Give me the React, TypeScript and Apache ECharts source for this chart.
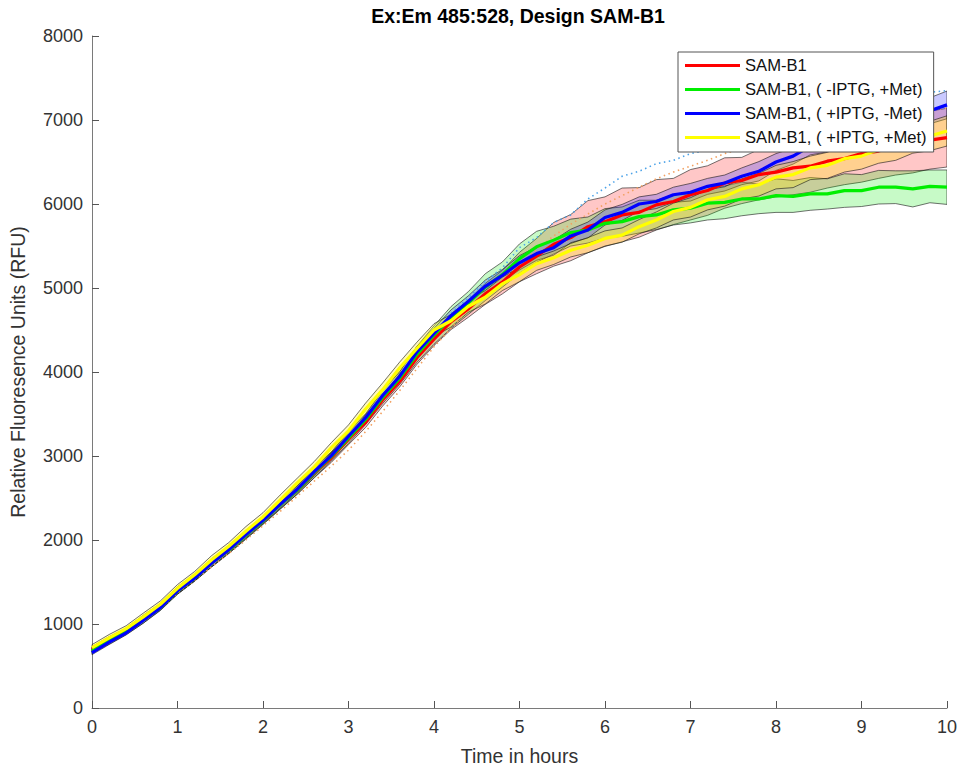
import React, { useEffect, useRef } from "react";
import * as echarts from "echarts";

const T = [0, 0.2, 0.4, 0.6, 0.8, 1, 1.2, 1.4, 1.6, 1.8, 2, 2.2, 2.4, 2.6, 2.8, 3, 3.2, 3.4, 3.6, 3.8, 4, 4.2, 4.4, 4.6, 4.8, 5, 5.2, 5.4, 5.6, 5.8, 6, 6.2, 6.4, 6.6, 6.8, 7, 7.2, 7.4, 7.6, 7.8, 8, 8.2, 8.4, 8.6, 8.8, 9, 9.2, 9.4, 9.6, 9.8, 10];

const NAMES = ["SAM-B1", "SAM-B1, ( -IPTG, +Met)", "SAM-B1, ( +IPTG, -Met)", "SAM-B1, ( +IPTG, +Met)"];

const redMean = [700, 815, 920, 1065, 1210, 1400, 1550, 1730, 1885, 2065, 2235, 2425, 2595, 2800, 2980, 3200, 3400, 3670, 3890, 4170, 4390, 4600, 4750, 4930, 5070, 5250,
  5380, 5520, 5600, 5730, 5790, 5870, 5900, 5990, 6030, 6110, 6160, 6250, 6280, 6350, 6380, 6430, 6450, 6510, 6540, 6600, 6630, 6690, 6700, 6760, 6790];
const greenMean = [680, 795, 905, 1050, 1195, 1395, 1545, 1725, 1880, 2060, 2230, 2420, 2595, 2805, 2995, 3215, 3435, 3700, 3930, 4210, 4440, 4650, 4820, 5010, 5160, 5350,
  5490, 5570, 5660, 5690, 5770, 5790, 5850, 5870, 5930, 5950, 6010, 6020, 6060, 6060, 6100, 6090, 6120, 6120, 6160, 6160, 6200, 6200, 6180, 6210, 6200];
const blueMean = [660, 785, 895, 1045, 1195, 1395, 1545, 1725, 1885, 2065, 2235, 2425, 2605, 2815, 3005, 3235, 3455, 3720, 3950, 4240, 4460, 4670, 4840, 5020, 5150, 5300,
  5410, 5480, 5620, 5690, 5840, 5900, 6000, 6030, 6110, 6140, 6210, 6250, 6330, 6390, 6500, 6570, 6690, 6730, 6810, 6860, 6940, 6980, 7070, 7110, 7180];
const yellowMean = [720, 835, 945, 1085, 1235, 1425, 1585, 1765, 1925, 2105, 2275, 2475, 2680, 2870, 3100, 3300, 3560, 3790, 4050, 4280, 4500, 4610, 4780, 4890, 5050, 5160,
  5290, 5360, 5450, 5510, 5590, 5630, 5730, 5810, 5910, 5960, 6050, 6090, 6180, 6230, 6320, 6350, 6430, 6460, 6540, 6570, 6650, 6690, 6770, 6810, 6870];

const redSpread = [30, 35, 30, 40, 35, 45, 40, 50, 45, 50, 45, 55, 50, 60, 55, 65, 60, 75, 65, 80, 75, 95, 100, 125, 140, 175,
  210, 260, 275, 310, 295, 320, 295, 300, 275, 300, 295, 300, 275, 300, 295, 320, 310, 320, 310, 340, 325, 345, 330, 345, 350];
const greenSpread = [30, 35, 30, 40, 35, 40, 35, 45, 40, 50, 45, 55, 50, 60, 55, 65, 60, 75, 75, 95, 110, 130, 135, 160, 150, 175,
  185, 165, 160, 155, 175, 175, 195, 175, 180, 175, 200, 195, 200, 175, 200, 190, 195, 180, 200, 190, 200, 195, 215, 195, 205];
const blueSpread = [25, 30, 25, 35, 30, 35, 30, 40, 35, 40, 35, 45, 40, 50, 45, 55, 50, 60, 55, 65, 60, 70, 65, 75, 70, 85,
  80, 90, 80, 95, 90, 95, 85, 85, 90, 105, 95, 95, 100, 115, 100, 95, 105, 110, 125, 130, 125, 135, 140, 155, 165];
const yellowSpread = [35, 40, 35, 45, 40, 45, 40, 50, 45, 55, 50, 60, 55, 65, 60, 70, 70, 80, 70, 75, 75, 75, 70, 80, 80, 85,
  80, 80, 80, 90, 90, 85, 85, 95, 100, 115, 120, 115, 120, 135, 140, 155, 140, 155, 160, 155, 165, 170, 165, 175, 180];

// individual replicate traces (dotted)
const repBlue = [null, null, null, null, null, null, null, null, null, null, null, null, null, null, null, null, null, null, null, null, null,
  4700, 4880, 5080, 5240, 5480, 5600, 5780, 5870, 6060, 6190, 6330, 6390, 6480, 6520, 6600, 6640, 6710, 6750, 6830, 6870, 6950, 6990, 7060, 7090, 7160, 7190, 7250, 7270, 7330, 7350];
const repOrange = [680, 790, 905, 1030, 1180, 1370, 1520, 1680, 1840, 2000, 2170, 2340, 2520, 2700, 2880, 3070, 3290, 3530, 3780, 4040, 4300, 4520, 4740, 4930, 5100, 5260,
  5460, 5620, 5760, 5880, 6000, 6100, 6200, 6300, 6380, 6450, 6520, 6600, 6660, 6720, 6780, 6830, 6880, 6920, 6960, 7000, 7040, 7080, 7100, 7120, 7140];

const X_TICKS = [0, 10, 1];
const Y_TICKS = [0, 8000, 1000];

const FONT = "'Liberation Sans', Arial, Helvetica, sans-serif";

export default function App() {
  const ref = useRef<HTMLDivElement>(null);
  useEffect(() => {
    document.body.style.margin = "0";
    const chart = echarts.init(ref.current!, null, { renderer: "svg" });
    const groups = [
      { name: NAMES[0], mean: redMean, spread: redSpread, line: "#ff0000", fill: "rgba(255,0,0,0.22)" },
      { name: NAMES[1], mean: greenMean, spread: greenSpread, line: "#00ee00", fill: "rgba(0,230,0,0.22)" },
      { name: NAMES[2], mean: blueMean, spread: blueSpread, line: "#0000ff", fill: "rgba(40,40,255,0.25)" },
      { name: NAMES[3], mean: yellowMean, spread: yellowSpread, line: "#ffff00", fill: "rgba(255,235,0,0.28)" },
    ];
    const series: any[] = [];
    groups.forEach((g, k) => {
      const lo = g.mean.map((m, i) => [T[i], m - g.spread[i]]);
      const hi = g.mean.map((m, i) => [T[i], m + g.spread[i]]);
      series.push({
        type: "custom", name: "band" + k, silent: true, z: 1, clip: true,
        data: g.mean.map((m, i) => [T[i], m - g.spread[i], m + g.spread[i]]),
        encode: { x: 0, y: [1, 2] },
        renderItem: (params: any, api: any) => {
          if (params.dataIndex !== 0) return null;
          const pts = hi.map((p) => api.coord(p)).concat(lo.slice().reverse().map((p) => api.coord(p)));
          return {
            type: "polygon",
            shape: { points: pts },
            style: { fill: g.fill, stroke: "rgba(20,20,20,0.75)", lineWidth: 0.8 },
          };
        },
      });
    });
    series.push({
      type: "line", name: "repB", symbol: "none", silent: true, z: 2,
      data: repBlue.map((v, i) => [T[i], v]),
      lineStyle: { color: "#4da3e8", width: 1.6, type: [1.5, 3.5] },
    });
    series.push({
      type: "line", name: "repO", symbol: "none", silent: true, z: 2,
      data: repOrange.map((v, i) => [T[i], v]),
      lineStyle: { color: "#f2a060", width: 1.6, type: [1.5, 3.5] },
    });
    groups.forEach((g) => {
      series.push({
        type: "line", name: g.name, symbol: "none", z: 3,
        data: g.mean.map((m, i) => [T[i], m]),
        lineStyle: { color: g.line, width: 3.2 },
        itemStyle: { color: g.line },
      });
    });

    chart.setOption({
      animation: false,
      backgroundColor: "#fff",
      textStyle: { fontFamily: FONT },
      grid: { left: 89, right: 14, top: 36, bottom: 58 },
      graphic: [
        {
          type: "text", x: 518, y: 16, z: 10,
          style: {
            text: "Ex:Em 485:528, Design SAM-B1", fill: "#000",
            font: "bold 19.5px " + FONT, align: "center", verticalAlign: "middle",
          },
        },
      ],
      legend: {
        data: NAMES,
        orient: "vertical",
        left: 678, top: 52,
        padding: [5, 7, 6, 7],
        itemWidth: 55, itemHeight: 3, itemGap: 7,
        icon: "rect",
        backgroundColor: "#fff",
        borderColor: "#555", borderWidth: 1,
        textStyle: { fontSize: 16.6, color: "#111", fontFamily: FONT, lineHeight: 16 },
        z: 20,
      },
      xAxis: {
        type: "value", min: X_TICKS[0], max: X_TICKS[1], interval: X_TICKS[2],
        name: "Time in hours", nameLocation: "middle", nameGap: 38,
        nameTextStyle: { fontSize: 19.5, color: "#333", fontFamily: FONT },
        axisLine: { show: true, lineStyle: { color: "#7a7a7a", width: 1 } },
        axisTick: { show: true, inside: true, length: 7, lineStyle: { color: "#555" } },
        axisLabel: { fontSize: 18, color: "#333", margin: 10, fontFamily: FONT, formatter: (v: number) => String(v) },
        splitLine: { show: false },
      },
      yAxis: {
        type: "value", min: Y_TICKS[0], max: Y_TICKS[1], interval: Y_TICKS[2],
        name: "Relative Fluoresence Units (RFU)", nameLocation: "middle", nameGap: 64,
        nameTextStyle: { fontSize: 19.5, color: "#333", fontFamily: FONT },
        axisLine: { show: true, lineStyle: { color: "#7a7a7a", width: 1 } },
        axisTick: { show: true, inside: true, length: 7, lineStyle: { color: "#555" } },
        axisLabel: { fontSize: 18, color: "#333", margin: 9, fontFamily: FONT, formatter: (v: number) => String(v) },
        splitLine: { show: false },
      },
      series,
    });
    return () => chart.dispose();
  }, []);
  return <div ref={ref} style={{ width: 961, height: 771 }} />;
}
